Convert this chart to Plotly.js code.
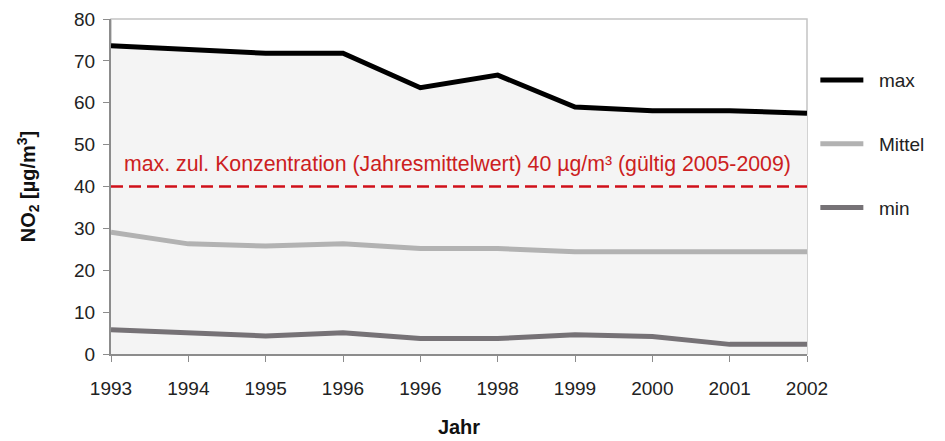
<!DOCTYPE html>
<html>
<head>
<meta charset="utf-8">
<script src="https://cdn.plot.ly/plotly-3.0.1.min.js"></script>
<style>html,body{margin:0;padding:0;background:#fff;}#chart{width:945px;height:441px;}</style>
</head>
<body>
<div id="chart"></div>
<script>
// Data
const years = ["1993", "1994", "1995", "1996", "1996", "1998", "1999", "2000", "2001", "2002"];
const maxValues = [73.6, 72.8, 71.8, 71.8, 63.6, 66.6, 59.0, 58.1, 58.1, 57.5];
const meanValues = [29.1, 26.3, 25.8, 26.3, 25.2, 25.2, 24.4, 24.4, 24.4, 24.4];
const minValues = [5.8, 5.1, 4.3, 5.1, 3.7, 3.7, 4.6, 4.2, 2.3, 2.3];
const seriesNames = ["max", "Mittel", "min"];
const limitValue = 40;
const limitLabel = "max. zul. Konzentration (Jahresmittelwert) 40 \u00b5g/m\u00b3 (g\u00fcltig 2005-2009)";
const yTicks = [0, 10, 20, 30, 40, 50, 60, 70, 80];

const idx = years.map((_, i) => i);
const font = "Liberation Sans, Arial, sans-serif";
const pad = "\u00a0\u00a0";

const traces = [
  {x: idx, y: maxValues, type: "scatter", mode: "lines", fill: "tozeroy",
   fillcolor: "#f4f4f4", line: {width: 0, color: "#f4f4f4"}, showlegend: false, hoverinfo: "skip"},
  {x: idx, y: maxValues, type: "scatter", mode: "lines", name: pad + seriesNames[0],
   line: {color: "#000000", width: 5}, legendgroup: "a"},
  {x: idx, y: meanValues, type: "scatter", mode: "lines", name: pad + seriesNames[1],
   line: {color: "#b2b2b2", width: 5}, legendgroup: "b"},
  {x: idx, y: minValues, type: "scatter", mode: "lines", name: pad + seriesNames[2],
   line: {color: "#767276", width: 5}, legendgroup: "c"}
];

const layout = {
  width: 945, height: 441,
  margin: {l: 111, r: 138, t: 19, b: 87},
  paper_bgcolor: "#ffffff", plot_bgcolor: "#ffffff",
  font: {family: font, size: 19, color: "#222222"},
  showlegend: true,
  legend: {x: 1.012, xanchor: "left", y: 0.874, yanchor: "top", tracegroupgap: 36, itemwidth: 43,
           font: {family: font, size: 19, color: "#222222"}, bgcolor: "rgba(0,0,0,0)"},
  xaxis: {
    range: [0, years.length - 1], tickmode: "array", tickvals: idx, ticktext: years,
    showgrid: false, zeroline: false, showline: true, linecolor: "#8c8c8c", linewidth: 2,
    ticks: "outside", ticklen: 6, tickcolor: "#8c8c8c", tickwidth: 1, ticklabelstandoff: 10,
    tickfont: {family: font, size: 19, color: "#222"},
    title: {text: "<b>Jahr</b>", font: {family: font, size: 20, color: "#111"}, standoff: 22},
    fixedrange: true
  },
  yaxis: {
    range: [0, 80], tickmode: "array", tickvals: yTicks,
    showgrid: false, zeroline: false, showline: true, linecolor: "#8c8c8c", linewidth: 2,
    ticks: "outside", ticklen: 6, tickcolor: "#8c8c8c", tickwidth: 1, ticklabelstandoff: 4,
    tickfont: {family: font, size: 19, color: "#222"},
    title: {text: "<b>NO<sub>2</sub> [\u00b5g/m<sup>3</sup>]</b>", font: {family: font, size: 20, color: "#111"}, standoff: 33},
    fixedrange: true
  },
  shapes: [
    {type: "rect", xref: "paper", yref: "paper", x0: 0, x1: 1, y0: 0, y1: 1,
     line: {color: "#c4c4c4", width: 1.5}, layer: "below"},
    {type: "line", xref: "paper", yref: "y", x0: 0, x1: 1, y0: limitValue, y1: limitValue,
     line: {color: "#d0101a", width: 2.5, dash: "12px,6px"}}
  ],
  annotations: [
    {xref: "paper", yref: "y", x: 0.498, y: limitValue + 5.3, text: limitLabel, showarrow: false,
     font: {family: font, size: 21.3, color: "#cc2020"}, xanchor: "center", yanchor: "middle"}
  ]
};

Plotly.newPlot("chart", traces, layout, {displayModeBar: false, staticPlot: true});
</script>
</body>
</html>
